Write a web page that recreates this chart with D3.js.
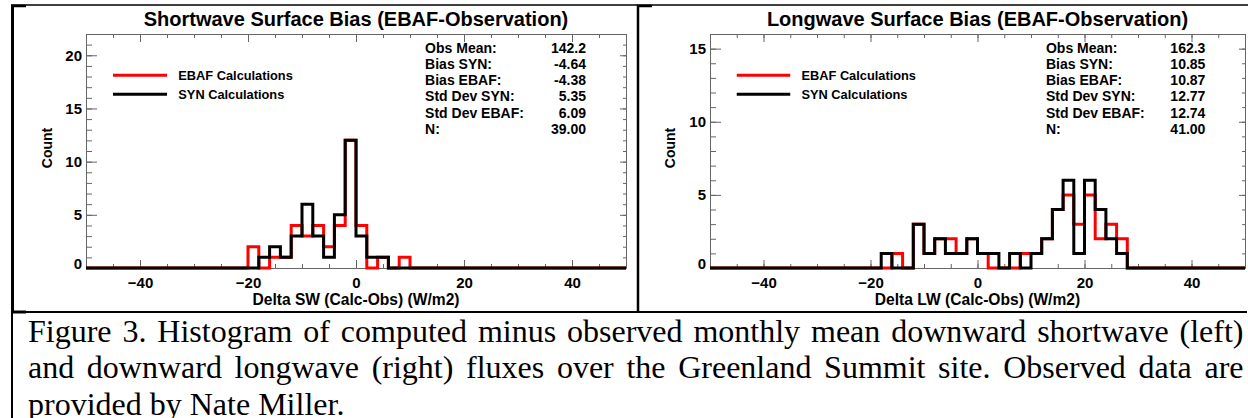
<!DOCTYPE html>
<html>
<head>
<meta charset="utf-8">
<script src="https://cdn.jsdelivr.net/npm/d3@7"></script>
<style>
  body { margin: 0; background: #fff; }
  svg { display: block; }
  .sans { font-family: "Liberation Sans", Arial, Helvetica, sans-serif; font-weight: bold; }
  .serif { font-family: "Liberation Serif", "Times New Roman", serif; }
  .axis path, .axis line { stroke: #666; stroke-width: 1; }
</style>
</head>
<body>
<svg id="fig" width="1248" height="418"></svg>
<script>
const binWidth = 2;
const xDomain = [-50, 50];
const xMajorTicks = [-40, -20, 0, 20, 40];
const statLabels = ["Obs Mean:", "Bias SYN:", "Bias EBAF:", "Std Dev SYN:", "Std Dev EBAF:", "N:"];
const legendLabels = ["EBAF Calculations", "SYN Calculations"];
const legendColors = ["#ff0000", "#000000"];

// shortwave panel, counts per 2 W/m2 bin starting at swBinStart
const swBinStart = -20;
const swEbaf = [2, 0, 1, 1, 4, 3, 4, 2, 4, 12, 4, 0, 1, 0, 1];
const swSyn  = [0, 1, 2, 1, 3, 6, 3, 1, 5, 12, 3, 1, 1, 0, 0];
const swStats = ["142.2", "-4.64", "-4.38", "5.35", "6.09", "39.00"];

// longwave panel
const lwBinStart = -18;
const lwEbaf = [0, 1, 0, 3, 1, 2, 2, 1, 2, 1, 0, 0, 0, 1, 1, 2, 4, 5, 3, 5, 2, 3, 2];
const lwSyn  = [1, 0, 0, 3, 1, 2, 1, 1, 2, 1, 1, 0, 1, 0, 1, 2, 4, 6, 1, 6, 4, 2, 1];
const lwStats = ["162.3", "10.85", "10.87", "12.77", "12.74", "41.00"];

const captionLines = [
  "Figure 3. Histogram of computed minus observed monthly mean downward shortwave (left)",
  "and downward longwave (right) fluxes over the Greenland Summit site. Observed data are",
  "provided by Nate Miller."
];

const svg = d3.select("#fig");

const panels = [
  {left: 86, right: 626, yMax: 22, yMajor: 5,
   title: "Shortwave Surface Bias (EBAF-Observation)",
   xLabel: "Delta SW (Calc-Obs) (W/m2)",
   start: swBinStart, ebaf: swEbaf, syn: swSyn, stats: swStats, countX: 51.5},
  {left: 710, right: 1245, yMax: 16, yMajor: 5,
   title: "Longwave Surface Bias (EBAF-Observation)",
   xLabel: "Delta LW (Calc-Obs) (W/m2)",
   start: lwBinStart, ebaf: lwEbaf, syn: lwSyn, stats: lwStats, countX: 675}
];
const plotTop = 34, plotBottom = 268;

function stepPoints(start, counts) {
  const pts = [[xDomain[0], 0]];
  counts.forEach((c, i) => pts.push([start + i * binWidth, c]));
  pts.push([start + counts.length * binWidth, 0]);
  pts.push([xDomain[1], 0]);
  return pts;
}

panels.forEach((p) => {
  const x = d3.scaleLinear().domain(xDomain).range([p.left, p.right]);
  const y = d3.scaleLinear().domain([0, p.yMax]).range([plotBottom, plotTop]);
  const g = svg.append("g");
  const w = p.right - p.left;
  const minorX = d3.range(-50, 51, 5);
  const minorY = d3.range(0, p.yMax + 1, 1);
  const majorY = d3.range(0, p.yMax + 1, p.yMajor);

  // minor ticks first
  g.append("g").attr("class", "axis").attr("transform", "translate(0," + plotBottom + ")")
    .call(d3.axisBottom(x).tickValues(minorX).tickSize(-4).tickSizeOuter(0).tickFormat(""));
  g.append("g").attr("class", "axis").attr("transform", "translate(0," + plotTop + ")")
    .call(d3.axisTop(x).tickValues(minorX).tickSize(-4).tickSizeOuter(0).tickFormat(""));
  g.append("g").attr("class", "axis").attr("transform", "translate(" + p.left + ",0)")
    .call(d3.axisLeft(y).tickValues(minorY).tickSize(-6).tickSizeOuter(0).tickFormat(""));
  g.append("g").attr("class", "axis").attr("transform", "translate(" + p.right + ",0)")
    .call(d3.axisRight(y).tickValues(minorY).tickSize(-3).tickSizeOuter(0).tickFormat(""));

  // major ticks
  const xb = g.append("g").attr("class", "axis sans").attr("transform", "translate(0," + plotBottom + ")")
    .call(d3.axisBottom(x).tickValues(xMajorTicks).tickSize(-8).tickSizeOuter(0).tickPadding(9));
  g.append("g").attr("class", "axis").attr("transform", "translate(0," + plotTop + ")")
    .call(d3.axisTop(x).tickValues(xMajorTicks).tickSize(-8).tickSizeOuter(0).tickFormat(""));
  const yl = g.append("g").attr("class", "axis sans").attr("transform", "translate(" + p.left + ",0)")
    .call(d3.axisLeft(y).tickValues(majorY).tickSize(-11).tickSizeOuter(0).tickPadding(4));
  g.append("g").attr("class", "axis").attr("transform", "translate(" + p.right + ",0)")
    .call(d3.axisRight(y).tickValues(majorY).tickSize(-6).tickSizeOuter(0).tickFormat(""));

  [xb, yl].forEach((a) => {
    a.attr("font-family", null).attr("font-size", null);
    a.selectAll("text").attr("fill", "#000").style("font-size", "15px");
  });
  // the zero label sits a little above its tick in the original
  yl.selectAll(".tick").filter((d) => d === 0).select("text").attr("y", -4.5);

  // histograms
  const line = d3.line().x((d) => x(d[0])).y((d) => y(d[1])).curve(d3.curveStepAfter);
  g.append("path").attr("d", line(stepPoints(p.start, p.ebaf)))
    .attr("fill", "none").attr("stroke", "#ff0000").attr("stroke-width", 3);
  g.append("path").attr("d", line(stepPoints(p.start, p.syn)))
    .attr("fill", "none").attr("stroke", "#000").attr("stroke-width", 3);

  // titles and axis labels
  g.append("text").attr("class", "sans").attr("x", (p.left + p.right) / 2).attr("y", 26)
    .attr("text-anchor", "middle").style("font-size", "20px").text(p.title);
  g.append("text").attr("class", "sans").attr("x", (p.left + p.right) / 2).attr("y", 305)
    .attr("text-anchor", "middle").style("font-size", "15.6px").text(p.xLabel);
  g.append("text").attr("class", "sans")
    .attr("transform", "translate(" + p.countX + ",148) rotate(-90)")
    .attr("text-anchor", "middle").style("font-size", "14px").text("Count");

  // legend
  legendLabels.forEach((lab, i) => {
    const ly = 75.3 + i * 19;
    g.append("line").attr("x1", p.left + w * 0.05).attr("x2", p.left + w * 0.15)
      .attr("y1", ly).attr("y2", ly).attr("stroke", legendColors[i]).attr("stroke-width", 3);
    g.append("text").attr("class", "sans").attr("x", p.left + w * 0.171).attr("y", ly + 4.7)
      .style("font-size", "12.8px").text(lab);
  });

  // stats block
  statLabels.forEach((lab, i) => {
    const sy = 52.7 + i * 16.26;
    g.append("text").attr("class", "sans").attr("x", p.left + w * 0.628).attr("y", sy)
      .style("font-size", "14px").text(lab);
    g.append("text").attr("class", "sans").attr("x", p.left + w * 0.926).attr("y", sy)
      .attr("text-anchor", "end").style("font-size", "14px").text(p.stats[i]);
  });
});

// figure frame lines
const frame = svg.append("g").attr("stroke", "#000").attr("fill", "none");
frame.append("line").attr("x1", 11).attr("x2", 1248).attr("y1", 5).attr("y2", 5).attr("stroke-width", 1.5);
frame.append("line").attr("x1", 11).attr("x2", 1247).attr("y1", 312).attr("y2", 312).attr("stroke-width", 2);
frame.append("line").attr("x1", 12.5).attr("x2", 12.5).attr("y1", 5).attr("y2", 312).attr("stroke-width", 3);
frame.append("line").attr("x1", 12).attr("x2", 12).attr("y1", 312).attr("y2", 418).attr("stroke-width", 2);
frame.append("line").attr("x1", 638).attr("x2", 638).attr("y1", 5).attr("y2", 312).attr("stroke-width", 2.5);
[11, 637].forEach((x0) => {
  frame.append("line").attr("x1", x0).attr("x2", x0 + 15).attr("y1", 6).attr("y2", 6).attr("stroke-width", 2.5);
});
frame.append("line").attr("x1", 11).attr("x2", 26).attr("y1", 312).attr("y2", 312).attr("stroke-width", 3);

// caption, justified like the source document
const capLeft = 28, capRight = 1243.5, capSize = "32px";
captionLines.forEach((txt, li) => {
  const by = 341.7 + li * 36.7;
  if (li === captionLines.length - 1) {
    svg.append("text").attr("class", "serif").attr("x", capLeft).attr("y", by)
      .style("font-size", capSize).text(txt);
    return;
  }
  const words = txt.split(" ");
  const nodes = words.map((wd) => svg.append("text").attr("class", "serif").attr("y", by)
    .style("font-size", capSize).text(wd));
  const widths = nodes.map((n) => n.node().getComputedTextLength());
  const gap = (capRight - capLeft - d3.sum(widths)) / (words.length - 1);
  let cx = capLeft;
  nodes.forEach((n, i) => { n.attr("x", cx); cx += widths[i] + gap; });
});
</script>
</body>
</html>
